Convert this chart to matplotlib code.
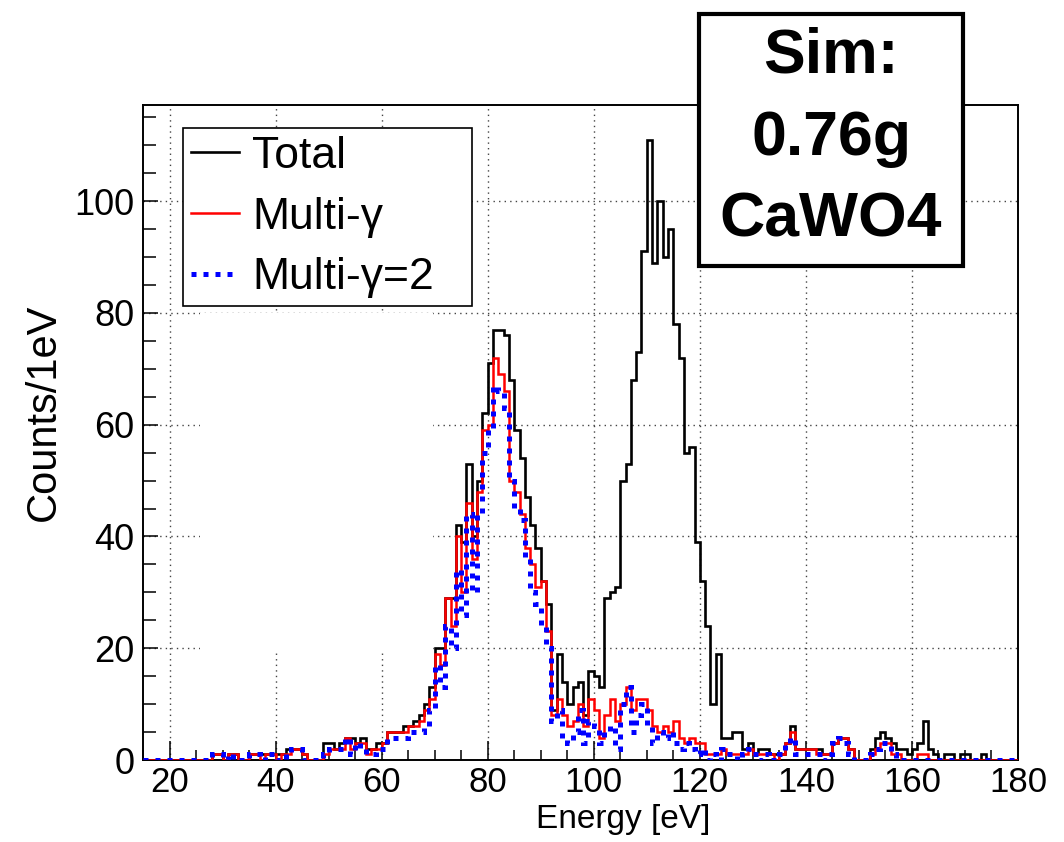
import numpy as np
import matplotlib
matplotlib.use("Agg")
import matplotlib.pyplot as plt
from matplotlib.patches import Rectangle
from matplotlib.ticker import MultipleLocator

# ---------------- data (1 eV bins from 15 to 180 eV) ----------------
bin_edges = np.arange(15, 181, 1)

total = [
    0, 0, 0, 0, 0, 0, 0, 0, 0, 0, 0, 0, 0,            # 15-27
    1, 1, 0, 1, 1, 0, 0, 1, 1, 1, 1, 1, 1, 1, 2, 2, 2, 1, 0, 0, 0,   # 28-48
    3, 3, 2, 3, 4, 4, 3, 4, 2, 2, 3, 3, 5, 5, 5, 6, 6, 7, 8, 10, 13,  # 49-69
    20, 20, 29, 29, 42, 39, 53, 40, 50, 62, 71, 77, 77, 76, 68, 59, 54, 47, 42, 38,  # 70-89
    32, 28, 9, 19, 14, 10, 13, 14, 8, 16, 15, 13,        # 90-101
    29, 30, 31, 50, 53, 68, 73, 91, 111, 89, 100, 90, 95, 78, 72, 55, 56, 39,  # 102-119
    32, 24, 10, 19,                                      # 120-123
    4, 4, 5, 5, 2, 3, 1, 2, 2, 1, 1, 1, 3, 6, 2, 2, 2, 2, 2, 1,   # 124-143
    1, 3, 4, 4, 2, 0, 0, 0, 2, 4, 5, 4, 3, 2, 2, 1, 2, 3, 7, 2,   # 144-163
    1, 0, 1, 1, 0, 1, 1, 0, 0, 1, 0, 0, 0, 0, 0, 0,      # 164-179
]

multi_gamma = [
    0, 0, 0, 0, 0, 0, 0, 0, 0, 0, 0, 0, 0,            # 15-27
    1, 1, 0, 1, 1, 0, 0, 1, 1, 0, 1, 1, 0, 1, 1, 2, 2, 1, 0, 0, 0,   # 28-48
    1, 2, 2, 2, 4, 2, 3, 3, 1, 2, 2, 3, 5, 5, 5, 5, 6, 6, 7, 9, 11,  # 49-69
    19, 17, 29, 24, 40, 30, 46, 36, 48, 59, 60, 72, 69, 66, 50, 48, 44, 38, 35, 31,  # 70-89
    32, 23, 8, 11, 8, 6, 7, 10, 6, 11, 9, 4,             # 90-101
    8, 11, 7, 10, 13, 9, 11, 11, 9, 6, 5, 6, 5, 7, 4, 3, 4, 3,   # 102-119
    3, 1, 1, 1,                                          # 120-123
    2, 1, 1, 1, 1, 2, 1, 1, 1, 1, 0, 1, 3, 5, 2, 2, 2, 2, 1, 1,   # 124-143
    1, 3, 4, 4, 2, 0, 0, 0, 1, 2, 3, 3, 1, 1, 0, 0, 0, 1, 1, 0,   # 144-163
    0, 0, 0, 0, 0, 0, 0, 0, 0, 0, 0, 0, 0, 0, 0, 0,      # 164-179
]

multi_gamma_2 = [
    0, 0, 0, 0, 0, 0, 0, 0, 0, 0, 0, 0, 0,            # 15-27
    1, 1, 0, 1, 0, 0, 0, 1, 1, 0, 1, 1, 0, 0, 1, 2, 2, 0, 0, 0, 0,   # 28-48
    1, 2, 2, 2, 4, 1, 3, 2, 1, 1, 2, 2, 4, 4, 4, 4, 5, 5, 5, 6, 9,   # 49-69
    17, 13, 24, 20, 34, 26, 44, 30, 44, 55, 59, 67, 66, 63, 50, 45, 43, 36, 30, 28,  # 70-89
    24, 20, 7, 9, 4, 3, 5, 9, 3, 7, 6, 3,                # 90-101
    5, 6, 2, 10, 13, 5, 8, 10, 6, 3, 5, 4, 5, 3, 2, 3, 2, 1,     # 102-119
    2, 0, 1, 0,                                          # 120-123
    2, 1, 1, 0, 1, 2, 1, 0, 1, 0, 0, 1, 3, 4, 1, 1, 1, 1, 1, 0,   # 124-143
    1, 3, 4, 3, 1, 0, 0, 0, 1, 2, 3, 3, 1, 0, 0, 0, 0, 0, 0, 0,   # 144-163
    0, 0, 0, 0, 0, 0, 0, 0, 0, 0, 0, 0, 0, 0, 0, 0,      # 164-179
]

series_labels = ["Total", "Multi-\u03b3", "Multi-\u03b3=2"]
x_label = "Energy [eV]"
y_label = "Counts/1eV"
box_text = "Sim:\n0.76g\nCaWO4"

# ---------------- figure ----------------
plt.rcParams['font.family'] = ['Liberation Sans', 'DejaVu Sans']
W, H = 1064, 842
fig = plt.figure(figsize=(W / 100, H / 100), dpi=100)
ax = fig.add_axes([143 / W, 1 - 760 / H, 875 / W, 655 / H])

ax.stairs(total, bin_edges, baseline=None, color='black', lw=1.9, label=series_labels[0], zorder=3)
ax.stairs(multi_gamma, bin_edges, baseline=None, color='#ff0000', lw=1.8, label=series_labels[1], zorder=4)
ax.stairs(multi_gamma_2, bin_edges, baseline=None, color='#0000ff', lw=3.6,
          linestyle=(0, (1, 1.4)), label=series_labels[2], zorder=5)

ax.set_xlim(15, 180)
ax.set_ylim(0, 117.2)

ax.xaxis.set_major_locator(MultipleLocator(20))
ax.xaxis.set_minor_locator(MultipleLocator(5))
ax.yaxis.set_major_locator(MultipleLocator(20))
ax.yaxis.set_minor_locator(MultipleLocator(5))

ax.tick_params(axis='both', which='both', direction='in', top=False, right=False, width=1.1)
ax.tick_params(axis='x', which='major', length=14, labelsize=25, pad=4)
ax.tick_params(axis='x', which='minor', length=7)
ax.tick_params(axis='y', which='major', length=11, labelsize=26, pad=6)
ax.tick_params(axis='y', which='minor', length=9)
for s in ax.spines.values():
    s.set_linewidth(1.4)

ax.grid(True, which='major', color='#444444', linestyle=(0, (1, 3)), lw=1.0)
ax.set_axisbelow(True)

# blank (white) patch over part of the grid, as in the reference
ax.add_patch(Rectangle((57 / 875, 110 / 655), 233 / 875, 337 / 655, transform=ax.transAxes,
                       facecolor='white', edgecolor='none', zorder=1))

ax.set_xlabel(x_label, fontsize=24)
ax.xaxis.set_label_coords(0.549, (760 - 804) / 655)
ax.set_ylabel(y_label, fontsize=30, y=0.531, labelpad=8)

leg = ax.legend(loc='upper left', bbox_to_anchor=(40 / 875, 0.5, 289 / 875, 1 - 23 / 655 - 0.5),
                mode='expand', fontsize=32,
                frameon=True, fancybox=False, framealpha=1, edgecolor='black',
                borderpad=0.18, labelspacing=0.44, handlelength=1.08, handletextpad=0.3,
                borderaxespad=0)
leg.get_frame().set_linewidth(1.2)
leg.set_zorder(10)

# annotation box (white filled, thick border)
fig.patches.append(Rectangle((699 / W, 1 - 266 / H), 264 / W, 252 / H,
                             transform=fig.transFigure, facecolor='white',
                             edgecolor='black', lw=3.0, zorder=20))
fig.text(831 / W, 1 - 138 / H, box_text, ha='center', va='center', fontsize=45,
         fontweight='bold', linespacing=1.5, zorder=21)

fig.savefig("out.png", dpi=100)
